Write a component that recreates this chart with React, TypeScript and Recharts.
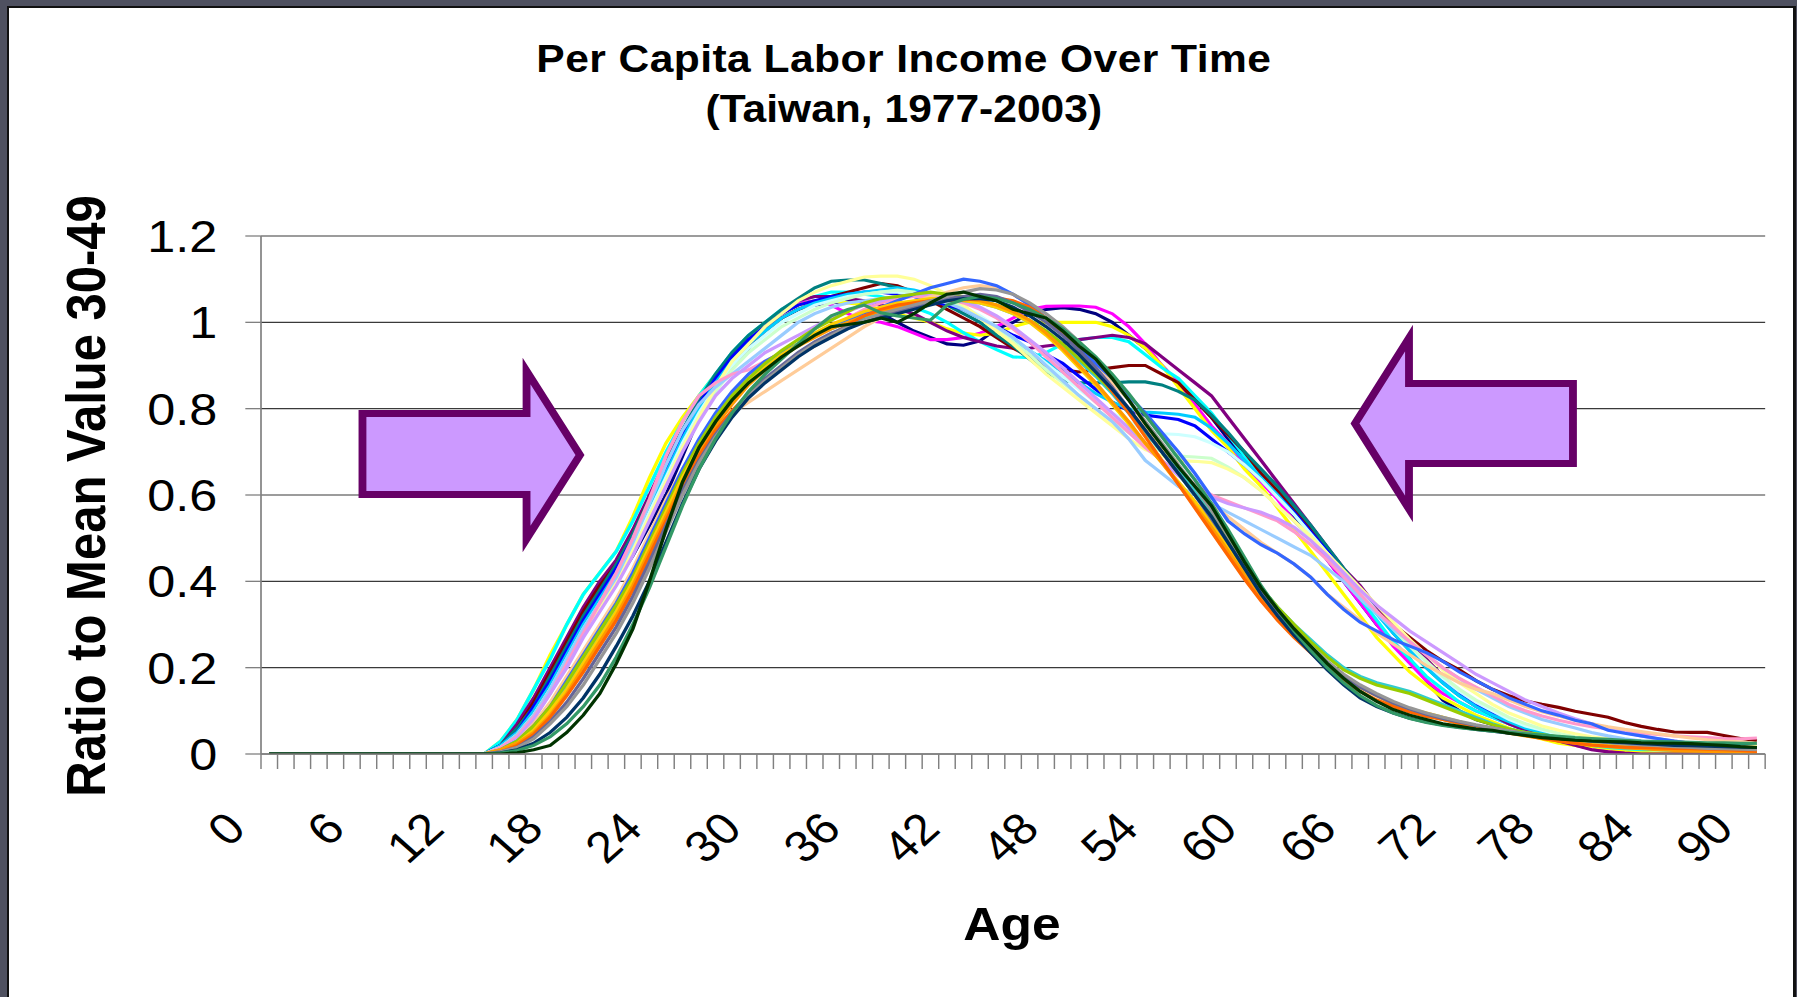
import React from 'react';
import { LineChart, Line, XAxis, YAxis, CartesianGrid } from 'recharts';

const FONT = '"Liberation Sans", Arial, Helvetica, sans-serif';
const K = 1.12; // horizontal stretch of the original picture

// categories: age 0..90
const ages = Array.from({ length: 91 }, (_, i) => i);
const xLabelTicks = [0, 6, 12, 18, 24, 30, 36, 42, 48, 54, 60, 66, 72, 78, 84, 90];
const yTicks = [0, 0.2, 0.4, 0.6, 0.8, 1, 1.2];
const boundaryTicks = Array.from({ length: 92 }, (_, i) => i - 0.5);

// values, ages 0..90
const y1977 = [0,0,0,0,0,0,0,0,0,0,0,0,0,0,
  .02,.05,.10,.16,.22,.29,.35,.40,.46,.53,.60,.69,.78,.85,.90,.94,.98,
  1.01,1.03,1.04,1.045,1.05,1.045,1.02,1.0,.98,.965,.95,.947,.957,.985,1.0,1.02,1.03,1.034,1.03,1.02,
  1.0,.97,.94,.90,.86,.82,.78,.73,.69,.64,.60,.55,.50,.45,.40,.35,.30,.26,.22,.17,
  .125,.10,.08,.068,.058,.048,.04,.032,.024,.017,.011,.005,.002,0,0,0,0,0,0,0];
const y1978 = [0,0,0,0,0,0,0,0,0,0,0,0,0,0,
  .02,.06,.12,.19,.26,.33,.39,.44,.51,.59,.67,.75,.81,.87,.92,.96,.99,
  1.02,1.045,1.05,1.04,1.02,1.005,1.0,.99,.975,.96,.96,.965,.975,.99,1.01,1.03,1.037,1.038,1.038,1.035,
  1.02,.99,.95,.90,.86,.81,.76,.72,.67,.63,.59,.54,.50,.45,.40,.35,.30,.25,.21,.17,
  .14,.12,.10,.085,.07,.055,.04,.03,.02,.012,.007,.003,0,0,0,0,0,0,0,0];
const y1979 = [0,0,0,0,0,0,0,0,0,0,0,0,0,0,
  .03,.08,.15,.23,.30,.37,.42,.47,.55,.64,.72,.78,.83,.88,.92,.96,1.0,
  1.02,1.04,1.05,1.05,1.045,1.04,1.03,1.02,1.01,1.0,.985,.975,.97,.975,.99,1.0,1.0,1.0,1.0,1.0,
  .99,.97,.94,.90,.85,.80,.75,.71,.66,.62,.57,.52,.47,.42,.37,.32,.27,.23,.19,.16,
  .13,.11,.09,.075,.06,.045,.035,.025,.02,.017,.012,.008,.004,.002,.002,.002,.003,.003,.004,.005];
const y1980 = [0,0,0,0,0,0,0,0,0,0,0,0,0,0,
  .03,.08,.15,.22,.30,.37,.42,.47,.54,.62,.70,.77,.83,.88,.93,.97,1.0,
  1.03,1.05,1.06,1.07,1.07,1.065,1.06,1.05,1.035,1.02,1.0,.976,.955,.937,.92,.918,.93,.95,.96,.965,
  .965,.955,.925,.895,.87,.83,.79,.74,.69,.645,.61,.56,.51,.46,.41,.36,.31,.26,.22,.18,
  .15,.12,.10,.085,.07,.055,.045,.035,.028,.02,.015,.012,.01,.01,.008,.008,.006,.006,.005,.005];
const y1981 = [0,0,0,0,0,0,0,0,0,0,0,0,0,0,
  .02,.07,.13,.20,.27,.34,.40,.45,.52,.60,.68,.75,.81,.87,.92,.96,.99,
  1.02,1.05,1.06,1.06,1.055,1.05,1.04,1.03,1.02,1.0,.98,.965,.955,.945,.94,.94,.945,.95,.96,.965,
  .97,.965,.95,.92,.89,.86,.83,.78,.73,.68,.63,.58,.53,.48,.43,.39,.34,.30,.26,.22,
  .18,.145,.115,.09,.07,.055,.04,.03,.02,.01,.005,.002,0,0,0,0,0,0,0,0];
const y1982 = [0,0,0,0,0,0,0,0,0,0,0,0,0,0,
  .02,.06,.12,.19,.26,.33,.39,.44,.51,.59,.67,.74,.80,.86,.91,.95,.98,
  1.01,1.03,1.045,1.06,1.07,1.08,1.09,1.085,1.07,1.05,1.03,1.01,.99,.965,.94,.92,.90,.89,.885,.89,
  .895,.90,.90,.88,.86,.82,.78,.74,.70,.65,.61,.57,.52,.47,.42,.37,.33,.30,.27,.24,
  .215,.195,.17,.15,.135,.123,.115,.108,.099,.092,.085,.073,.064,.057,.051,.05,.05,.043,.036,.031];
const y1983 = [0,0,0,0,0,0,0,0,0,0,0,0,0,0,
  .02,.06,.11,.18,.25,.32,.38,.44,.51,.59,.67,.75,.82,.88,.93,.97,1.0,
  1.03,1.055,1.08,1.095,1.098,1.098,1.09,1.08,1.07,1.055,1.04,1.02,1.0,.97,.945,.915,.885,.865,.86,.86,
  .86,.862,.862,.855,.84,.82,.785,.745,.70,.66,.62,.575,.53,.48,.43,.38,.33,.28,.24,.20,
  .165,.135,.11,.09,.075,.06,.05,.04,.035,.03,.025,.022,.02,.02,.02,.02,.02,.02,.02,.02];
const y1984 = [0,0,0,0,0,0,0,0,0,0,0,0,0,0,
  .02,.05,.11,.17,.24,.31,.37,.43,.50,.58,.66,.74,.81,.87,.92,.96,.99,
  1.02,1.04,1.05,1.06,1.065,1.07,1.07,1.065,1.06,1.05,1.04,1.03,1.01,.99,.97,.955,.925,.905,.875,.845,
  .815,.795,.785,.78,.775,.76,.73,.70,.67,.635,.60,.56,.515,.47,.42,.375,.33,.285,.245,.205,
  .17,.14,.115,.095,.08,.065,.055,.045,.037,.03,.025,.02,.017,.015,.013,.012,.011,.012,.01,.01];
const y1985 = [0,0,0,0,0,0,0,0,0,0,0,0,0,0,
  .02,.05,.10,.16,.23,.30,.36,.42,.49,.57,.65,.73,.80,.86,.91,.95,.98,
  1.01,1.03,1.045,1.055,1.065,1.07,1.075,1.08,1.075,1.065,1.05,1.03,1.01,.985,.96,.935,.91,.885,.86,.835,
  .815,.80,.792,.79,.787,.78,.755,.72,.68,.64,.60,.555,.51,.465,.42,.37,.325,.28,.24,.20,
  .165,.135,.11,.09,.075,.06,.05,.04,.032,.025,.02,.017,.014,.012,.01,.01,.01,.008,.008,.008];
const y1986 = [0,0,0,0,0,0,0,0,0,0,0,0,0,0,
  .015,.045,.09,.15,.22,.29,.35,.41,.48,.56,.64,.72,.79,.85,.90,.94,.97,
  1.0,1.02,1.04,1.05,1.06,1.065,1.07,1.07,1.065,1.06,1.05,1.035,1.015,.99,.965,.935,.905,.875,.845,.815,
  .79,.77,.75,.742,.74,.735,.72,.70,.67,.635,.595,.555,.51,.465,.42,.375,.33,.29,.25,.21,
  .175,.145,.12,.10,.08,.065,.055,.045,.037,.03,.025,.02,.017,.015,.013,.011,.01,.01,.008,.008];
const y1987 = [0,0,0,0,0,0,0,0,0,0,0,0,0,0,
  .015,.04,.085,.14,.21,.28,.34,.40,.47,.55,.63,.71,.78,.84,.89,.93,.96,
  .99,1.01,1.03,1.045,1.055,1.065,1.07,1.075,1.07,1.06,1.05,1.035,1.01,.985,.955,.925,.89,.86,.83,.80,
  .77,.745,.72,.70,.69,.688,.685,.665,.64,.61,.575,.54,.50,.46,.415,.37,.33,.29,.25,.215,
  .18,.15,.125,.105,.085,.07,.058,.048,.04,.033,.027,.022,.018,.015,.013,.012,.011,.01,.01,.01];
const y1988 = [0,0,0,0,0,0,0,0,0,0,0,0,0,0,
  .015,.045,.09,.15,.21,.28,.34,.40,.47,.55,.63,.71,.78,.85,.91,.95,.99,
  1.02,1.05,1.07,1.085,1.095,1.105,1.107,1.107,1.10,1.085,1.065,1.04,1.01,.98,.95,.915,.88,.85,.82,.79,
  .76,.73,.705,.69,.68,.678,.675,.66,.64,.61,.575,.54,.505,.465,.425,.385,.345,.305,.265,.23,
  .195,.165,.14,.115,.095,.08,.065,.055,.047,.04,.035,.03,.027,.025,.022,.02,.02,.018,.017,.017];
const y1989 = [0,0,0,0,0,0,0,0,0,0,0,0,0,0,
  .015,.045,.09,.15,.22,.29,.35,.41,.49,.58,.67,.75,.81,.85,.88,.91,.94,
  .97,1.0,1.02,1.035,1.045,1.05,1.055,1.06,1.06,1.055,1.045,1.03,1.01,.99,.965,.935,.90,.865,.83,.80,
  .77,.73,.68,.65,.62,.60,.58,.56,.54,.52,.50,.48,.46,.43,.40,.36,.325,.29,.26,.23,
  .20,.175,.15,.13,.11,.095,.08,.07,.06,.05,.042,.035,.03,.025,.02,.016,.013,.01,.008,.008];
const y1990 = [0,0,0,0,0,0,0,0,0,0,0,0,0,0,
  .015,.04,.085,.14,.21,.28,.35,.42,.50,.59,.69,.77,.83,.86,.88,.89,.91,
  .93,.95,.97,.99,1.01,1.03,1.045,1.055,1.06,1.06,1.055,1.045,1.03,1.01,.985,.955,.92,.885,.85,.815,
  .78,.745,.71,.68,.65,.625,.60,.585,.57,.555,.54,.515,.485,.45,.41,.37,.33,.295,.26,.23,
  .20,.175,.155,.135,.115,.10,.088,.078,.07,.063,.058,.053,.048,.045,.042,.04,.038,.036,.035,.037];
const y1991 = [0,0,0,0,0,0,0,0,0,0,0,0,0,0,
  .01,.035,.08,.14,.20,.27,.33,.39,.46,.54,.62,.70,.77,.83,.87,.90,.93,
  .95,.97,.99,1.01,1.025,1.04,1.05,1.06,1.065,1.065,1.06,1.05,1.035,1.015,.99,.96,.93,.895,.86,.825,
  .79,.755,.72,.68,.645,.615,.595,.58,.57,.56,.545,.525,.495,.46,.42,.38,.345,.315,.285,.26,
  .235,.21,.185,.165,.145,.125,.11,.095,.082,.07,.06,.05,.042,.035,.03,.025,.02,.018,.015,.015];
const y1992 = [0,0,0,0,0,0,0,0,0,0,0,0,0,0,
  .01,.03,.07,.12,.18,.24,.30,.36,.43,.51,.59,.66,.72,.76,.79,.815,.84,
  .865,.89,.915,.94,.965,.99,1.01,1.03,1.045,1.06,1.07,1.08,1.085,1.08,1.065,1.04,1.01,.975,.94,.90,
  .86,.82,.76,.71,.66,.62,.58,.55,.52,.49,.465,.44,.41,.37,.34,.31,.28,.255,.23,.205,
  .185,.165,.15,.14,.125,.11,.098,.088,.078,.07,.063,.057,.052,.047,.042,.037,.033,.03,.028,.025];
const y1993 = [0,0,0,0,0,0,0,0,0,0,0,0,0,0,
  .01,.03,.065,.11,.17,.23,.29,.35,.42,.50,.58,.66,.73,.79,.84,.88,.91,
  .93,.95,.97,.99,1.005,1.02,1.035,1.05,1.065,1.08,1.09,1.10,1.095,1.085,1.065,1.04,1.01,.975,.94,.905,
  .87,.83,.79,.745,.70,.65,.595,.54,.51,.485,.465,.44,.41,.37,.335,.305,.285,.265,.25,.235,
  .215,.19,.17,.15,.13,.115,.10,.09,.078,.07,.055,.048,.042,.036,.03,.025,.018,.015,.012,.01];
const y1994 = [0,0,0,0,0,0,0,0,0,0,0,0,0,0,
  .01,.03,.06,.10,.155,.215,.275,.335,.40,.48,.56,.64,.71,.77,.82,.86,.90,
  .925,.95,.97,.985,1.0,1.01,1.02,1.03,1.04,1.045,1.05,1.05,1.045,1.035,1.02,1.0,.975,.945,.91,.875,
  .835,.79,.745,.70,.655,.61,.56,.50,.44,.385,.34,.30,.265,.23,.20,.18,.165,.155,.145,.13,
  .115,.10,.085,.07,.058,.05,.043,.037,.032,.028,.024,.02,.017,.015,.013,.012,.01,.01,.01,.01];
const y1995 = [0,0,0,0,0,0,0,0,0,0,0,0,0,0,
  .01,.03,.065,.11,.165,.225,.285,.345,.41,.49,.57,.65,.72,.78,.83,.87,.905,
  .935,.96,.985,1.005,1.025,1.045,1.055,1.06,1.065,1.07,1.065,1.06,1.05,1.04,1.025,1.005,.98,.95,.915,.88,
  .84,.795,.75,.70,.65,.60,.55,.495,.44,.385,.34,.30,.26,.225,.195,.175,.16,.15,.14,.125,
  .11,.095,.08,.068,.058,.05,.045,.04,.036,.032,.028,.025,.022,.02,.018,.016,.015,.014,.013,.012];
const y1996 = [0,0,0,0,0,0,0,0,0,0,0,0,0,0,
  .01,.025,.055,.10,.15,.21,.27,.33,.40,.48,.56,.64,.71,.77,.82,.86,.895,
  .925,.95,.975,.995,1.01,1.025,1.035,1.045,1.05,1.055,1.055,1.05,1.045,1.035,1.02,1.0,.97,.935,.895,.855,
  .81,.765,.72,.675,.63,.585,.535,.48,.425,.37,.325,.285,.245,.21,.18,.155,.135,.12,.105,.095,
  .085,.075,.065,.058,.05,.044,.038,.033,.028,.024,.02,.017,.014,.012,.01,.008,.007,.006,.005,.005];
const y1997 = [0,0,0,0,0,0,0,0,0,0,0,0,0,0,
  .01,.025,.05,.09,.14,.20,.26,.32,.39,.47,.55,.63,.70,.76,.81,.855,.89,
  .92,.945,.965,.985,1.0,1.015,1.025,1.035,1.045,1.05,1.055,1.055,1.05,1.04,1.025,1.005,.975,.94,.90,.86,
  .815,.77,.72,.675,.625,.575,.525,.47,.415,.365,.32,.28,.245,.21,.18,.155,.135,.115,.10,.09,
  .08,.07,.062,.055,.048,.042,.036,.03,.025,.02,.017,.014,.012,.01,.008,.007,.006,.005,.005,.005];
const y1998 = [0,0,0,0,0,0,0,0,0,0,0,0,0,0,
  .005,.02,.045,.085,.135,.19,.25,.31,.38,.46,.54,.62,.69,.75,.795,.835,.865,
  .895,.925,.945,.97,.995,1.015,1.03,1.04,1.045,1.05,1.05,1.052,1.055,1.057,1.05,1.035,1.01,.975,.935,.89,
  .84,.79,.735,.68,.625,.57,.515,.46,.405,.355,.31,.27,.235,.20,.17,.145,.125,.11,.097,.087,
  .08,.072,.065,.058,.05,.043,.036,.03,.025,.021,.018,.016,.015,.014,.013,.012,.011,.01,.008,.006];
const y1999 = [0,0,0,0,0,0,0,0,0,0,0,0,0,0,
  .005,.015,.04,.075,.12,.175,.235,.295,.365,.445,.53,.61,.68,.74,.79,.835,.87,
  .90,.93,.955,.975,.99,1.005,1.015,1.025,1.035,1.045,1.055,1.06,1.065,1.06,1.045,1.025,1.0,.97,.935,.895,
  .85,.80,.75,.70,.65,.60,.545,.49,.435,.38,.33,.285,.245,.21,.18,.155,.135,.118,.104,.092,
  .082,.074,.066,.06,.053,.047,.042,.038,.034,.031,.028,.026,.024,.022,.02,.018,.016,.015,.014,.013];
const y2000 = [0,0,0,0,0,0,0,0,0,0,0,0,0,0,
  .005,.015,.035,.07,.11,.16,.22,.28,.35,.43,.515,.60,.675,.735,.785,.83,.865,
  .895,.925,.95,.97,.99,1.005,1.02,1.03,1.04,1.05,1.06,1.07,1.078,1.075,1.065,1.045,1.02,.99,.955,.915,
  .87,.82,.77,.72,.67,.62,.565,.505,.445,.385,.335,.29,.25,.215,.185,.16,.14,.122,.107,.095,
  .085,.076,.068,.061,.054,.048,.042,.037,.033,.029,.026,.023,.021,.019,.017,.015,.013,.012,.011,.01];
const y2001 = [0,0,0,0,0,0,0,0,0,0,0,0,0,0,
  .003,.01,.025,.05,.085,.13,.185,.25,.32,.40,.49,.58,.66,.725,.78,.825,.86,
  .89,.92,.945,.965,.985,1.0,1.01,1.02,1.03,1.04,1.05,1.055,1.055,1.05,1.035,1.015,.99,.96,.925,.885,
  .845,.80,.75,.70,.65,.60,.55,.49,.43,.37,.32,.275,.235,.195,.16,.13,.11,.095,.083,.074,
  .067,.062,.057,.053,.048,.044,.04,.036,.033,.03,.028,.026,.024,.022,.02,.019,.018,.017,.016,.015];
const y2002 = [0,0,0,0,0,0,0,0,0,0,0,0,0,0,
  .002,.008,.02,.04,.07,.11,.16,.225,.30,.385,.48,.575,.66,.73,.79,.84,.88,
  .915,.95,.985,1.015,1.03,1.04,1.022,1.015,1.01,1.005,1.04,1.053,1.06,1.055,1.045,1.03,1.01,.985,.955,.92,
  .88,.835,.785,.735,.685,.635,.58,.52,.455,.39,.335,.285,.24,.20,.165,.135,.112,.095,.082,.073,
  .066,.061,.057,.053,.05,.047,.044,.041,.038,.036,.034,.032,.03,.029,.028,.027,.026,.026,.025,.025];
const y2003 = [0,0,0,0,0,0,0,0,0,0,0,0,0,0,
  0,.003,.01,.02,.05,.09,.14,.21,.29,.40,.52,.63,.71,.77,.82,.86,.89,
  .92,.945,.97,.99,.995,1.0,1.01,1.0,1.02,1.045,1.065,1.07,1.06,1.05,1.03,1.02,1.01,.98,.945,.915,
  .87,.82,.765,.715,.665,.62,.575,.51,.445,.385,.335,.29,.25,.21,.175,.145,.122,.103,.09,.08,
  .07,.064,.058,.055,.048,.043,.038,.035,.032,.03,.029,.028,.026,.025,.025,.024,.022,.02,.017,.015];

const seriesNames = ['1977','1978','1979','1980','1981','1982','1983','1984','1985','1986','1987','1988','1989','1990','1991','1992','1993','1994','1995','1996','1997','1998','1999','2000','2001','2002','2003'];
const seriesValues = [y1977,y1978,y1979,y1980,y1981,y1982,y1983,y1984,y1985,y1986,y1987,y1988,y1989,y1990,y1991,y1992,y1993,y1994,y1995,y1996,y1997,y1998,y1999,y2000,y2001,y2002,y2003];
const seriesColors = ['#000080','#FF00FF','#FFFF00','#00FFFF','#800080','#800000','#008080','#0000FF','#00CCFF','#CCFFFF','#CCFFCC','#FFFF99','#99CCFF','#FF99CC','#CC99FF','#FFCC99','#3366FF','#33CCCC','#99CC00','#FFCC00','#FF9900','#FF6600','#666699','#969696','#003366','#339966','#003300'];

const rows = ages.map((age, i) => {
  const r: any = { age };
  seriesNames.forEach((n, j) => { r['y' + n] = seriesValues[j][i]; });
  return r;
});

// decorative arrows (picture pixels)
const leftArrow = [[362.5,413.5],[526.5,413.5],[526.5,371],[580,455],[526.5,539],[526.5,494.5],[362.5,494.5]];
const rightArrow = [[1355,423.5],[1409,338],[1409,383.5],[1573,383.5],[1573,463.5],[1409,463.5],[1409,509]];
const toPts = (a: number[][]) => a.map(([x, y]) => `${((x - 9) / K).toFixed(1)},${(y - 8).toFixed(1)}`).join(' ');

const AgeTick = (props: any) => {
  const { x, y, payload } = props;
  return (
    <text transform={`translate(${x - 19},${y + 76}) rotate(-45)`} textAnchor="end"
      fontSize={44} fontFamily={FONT} fill="#000">{payload.value}</text>
  );
};

const CW = 1593;
const CH = 989;

export default function App() {
  return (
    <div style={{ position: 'fixed', left: 0, top: 0, width: 1797, height: 997, background: '#4f5160', overflow: 'hidden' }}>
      <div style={{ position: 'absolute', left: 7, top: 6, width: 1789, height: 991, background: '#111' }} />
      <div style={{ position: 'absolute', left: 9, top: 8, width: 1784, height: 989, background: '#fff', overflow: 'hidden' }}>
        <div style={{ position: 'absolute', left: 0, top: 0, width: CW, height: CH, transform: `scaleX(${K})`, transformOrigin: '0 0' }}>
          <LineChart width={CW} height={CH} data={rows} margin={{ top: 228, right: 25, left: 125, bottom: 241 }}>
            <CartesianGrid vertical={false} stroke="#3a3a3a" strokeWidth={1.2} />
            <XAxis dataKey="age" type="number" domain={[-0.5, 90.5]} ticks={boundaryTicks} interval={0}
              height={1} tick={() => <g />} tickSize={15} allowDataOverflow
              tickLine={{ stroke: '#808080', strokeWidth: 1.3 }} axisLine={{ stroke: '#808080', strokeWidth: 1.5 }} />
            <XAxis xAxisId="labels" dataKey="age" type="number" domain={[-0.5, 90.5]} ticks={xLabelTicks} interval={0}
              height={1} tickSize={0} tickMargin={0} axisLine={false} tickLine={false} tick={<AgeTick />} allowDataOverflow />
            <YAxis domain={[0, 1.2]} ticks={yTicks} interval={0} width={100} tickSize={14} tickMargin={25} allowDataOverflow
              tick={{ fontSize: 45, fill: '#000', fontFamily: FONT }}
              tickLine={{ stroke: '#808080', strokeWidth: 1.3 }} axisLine={{ stroke: '#808080', strokeWidth: 1.5 }} />
            {seriesNames.map((n, j) => (
              <Line key={n} dataKey={'y' + n} name={n} type="linear" stroke={seriesColors[j]} strokeWidth={3.1}
                dot={false} activeDot={false} isAnimationActive={false} />
            ))}
          </LineChart>
          <svg width={CW} height={CH} style={{ position: 'absolute', left: 0, top: 0, pointerEvents: 'none' }}>
            <text x={799} y={64} textAnchor="middle" fontSize={38} fontWeight="bold" fontFamily={FONT} fill="#000" letterSpacing={0.4}>Per Capita Labor Income Over Time</text>
            <text x={799} y={114} textAnchor="middle" fontSize={38} fontWeight="bold" fontFamily={FONT} fill="#000">(Taiwan, 1977-2003)</text>
            <text transform="translate(86,488) rotate(-90)" textAnchor="middle" fontSize={49} fontWeight="bold" fontFamily={FONT} fill="#000">Ratio to Mean Value 30-49</text>
            <text x={895.5} y={932} textAnchor="middle" fontSize={46} fontWeight="bold" fontFamily={FONT} fill="#000">Age</text>
            <polygon points={toPts(leftArrow)} fill="#CC99FF" stroke="#660066" strokeWidth={7} strokeLinejoin="miter" />
            <polygon points={toPts(rightArrow)} fill="#CC99FF" stroke="#660066" strokeWidth={7} strokeLinejoin="miter" />
          </svg>
        </div>
      </div>
    </div>
  );
}
